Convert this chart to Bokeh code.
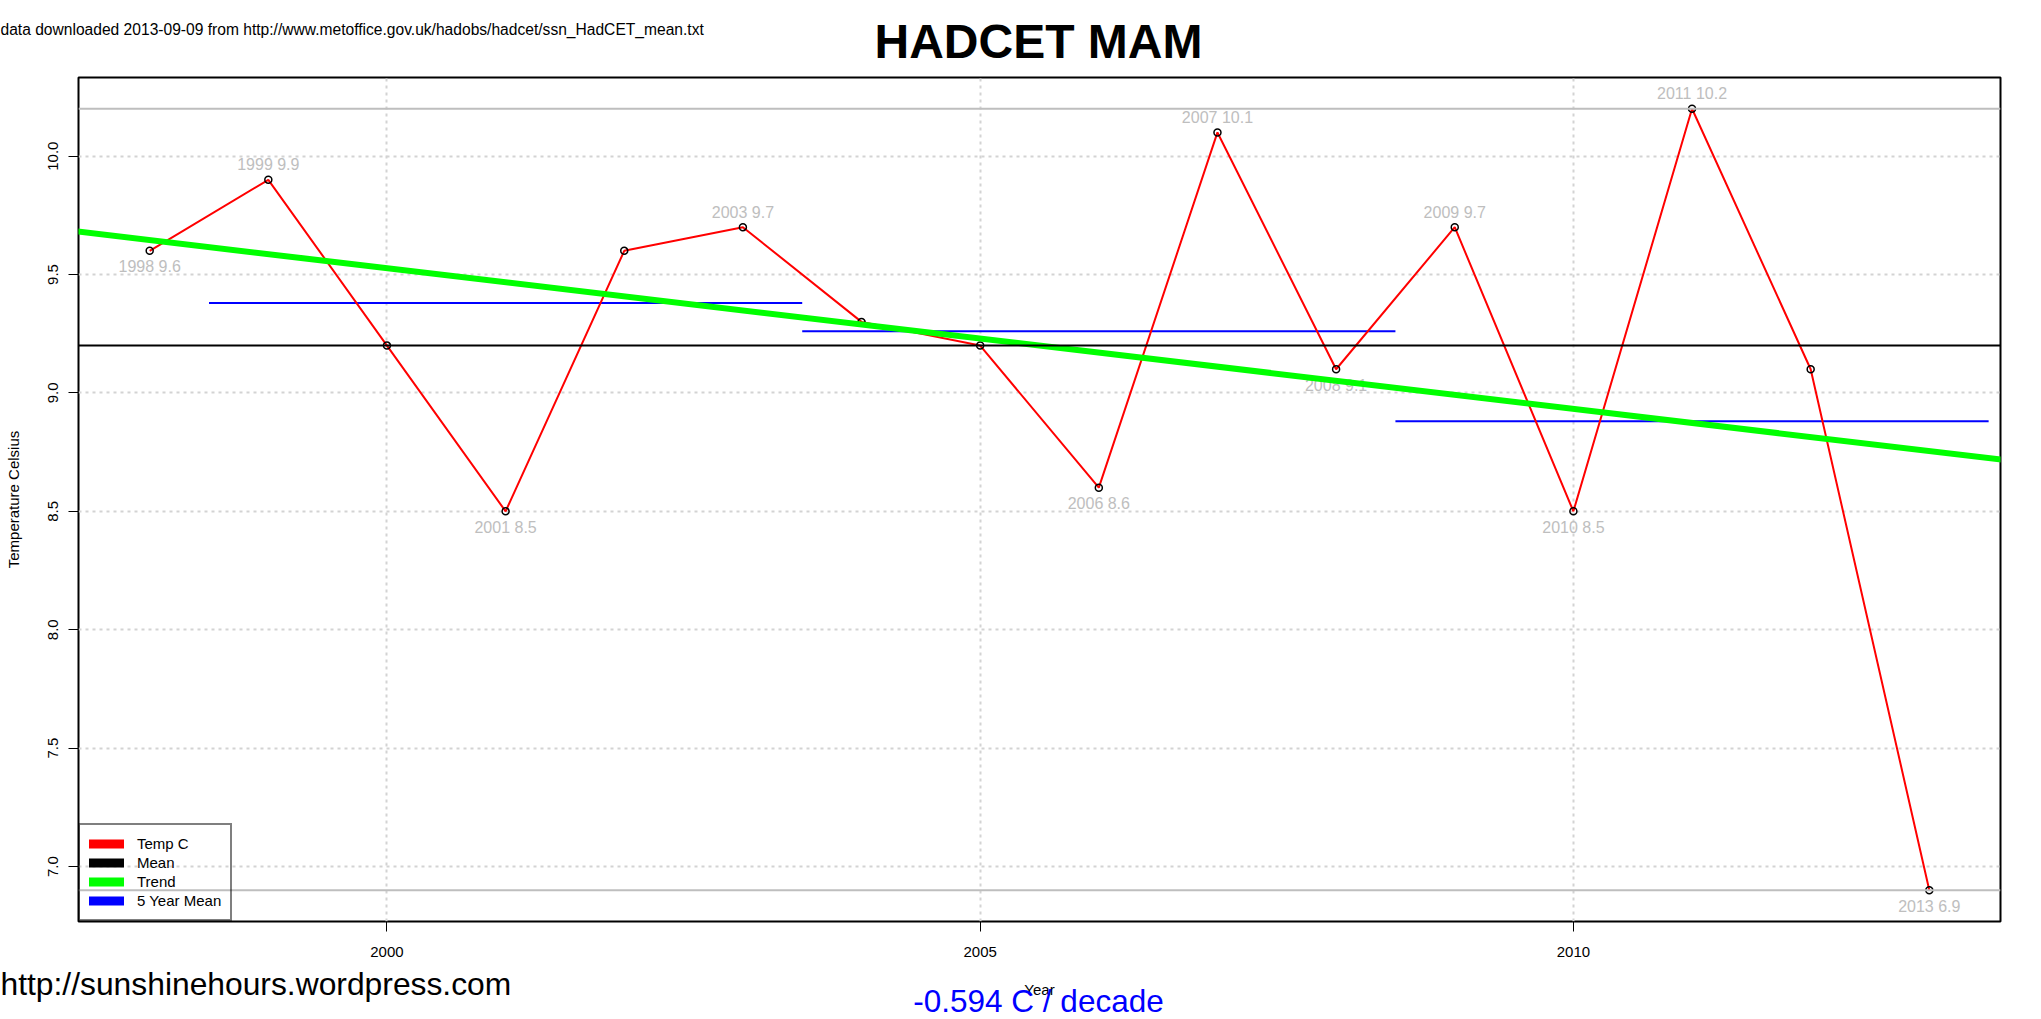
import numpy as np
from bokeh.plotting import figure
from bokeh.layouts import column
from bokeh.models import (Range1d, FixedTicker, Label, Legend, LegendItem, Span, Slope,
                          ColumnDataSource)
from bokeh.embed import file_html
from bokeh.resources import INLINE
from bokeh.core.properties import value

# ---------------- data ----------------
years = [1998, 1999, 2000, 2001, 2002, 2003, 2004, 2005,
         2006, 2007, 2008, 2009, 2010, 2011, 2012, 2013]
temps = [9.6, 9.9, 9.2, 8.5, 9.6, 9.7, 9.3, 9.2,
         8.6, 10.1, 9.1, 9.7, 8.5, 10.2, 9.1, 6.9]
block_starts = [1999, 2004, 2009]          # 5-year blocks for the 5 Year Mean
x_ticks = [2000, 2005, 2010]
x_tick_labels = ["2000", "2005", "2010"]
y_ticks = [7.0, 7.5, 8.0, 8.5, 9.0, 9.5, 10.0]
y_tick_labels = ["7.0", "7.5", "8.0", "8.5", "9.0", "9.5", "10.0"]
legend_labels = ["Temp C", "Mean", "Trend", "5 Year Mean"]
legend_colors = ["#FF0000", "#000000", "#00FF00", "#0000FF"]
title_text = "HADCET MAM"
source_text = "data downloaded 2013-09-09 from http://www.metoffice.gov.uk/hadobs/hadcet/ssn_HadCET_mean.txt"
site_text = "http://sunshinehours.wordpress.com"

FONT = "Liberation Sans"
W, H = 2041, 1019

yr = np.array(years, dtype=float)
tp = np.array(temps, dtype=float)
n = len(yr)

# derived statistics
mean_t = float(tp.mean())
slope, intercept = np.polyfit(yr, tp, 1)
decade_text = f"{slope * 10:.3f} C / decade"

blk_x0, blk_x1, blk_y = [], [], []
for b in block_starts:
    sel = (yr >= b) & (yr <= b + 4)
    blk_x0.append(b - 0.5)
    blk_x1.append(b + 4.5)
    blk_y.append(float(tp[sel].mean()))

# labels at local extremes (peaks above, troughs below)
lab_x, lab_y, lab_t, lab_off = [], [], [], []
for i in range(n):
    nb = [tp[j] for j in (i - 1, i + 1) if 0 <= j < n]
    if all(tp[i] > v for v in nb):
        off = -15
    elif all(tp[i] < v for v in nb):
        off = 16
    else:
        continue
    lab_x.append(yr[i]); lab_y.append(tp[i])
    lab_t.append(f"{years[i]} {temps[i]}"); lab_off.append(off)

# R-style 4% padded ranges
xpad = 0.04 * (yr.max() - yr.min())
ypad = 0.04 * (tp.max() - tp.min())

p = figure(width=W, height=H, output_backend="svg", toolbar_location=None,
           x_range=Range1d(yr.min() - xpad, yr.max() + xpad),
           y_range=Range1d(tp.min() - ypad, tp.max() + ypad),
           min_border_left=78, min_border_right=41, min_border_top=77, min_border_bottom=98)
p.title.visible = False
p.background_fill_color = "white"
p.border_fill_color = "white"
p.outline_line_color = "black"
p.outline_line_width = 2

# axes
for ax in (p.xaxis[0], p.yaxis[0]):
    ax.axis_line_color = None
    ax.major_tick_out = 10
    ax.major_tick_in = 0
    ax.minor_tick_line_color = None
    ax.major_tick_line_color = "black"
    ax.major_label_text_font = FONT
    ax.major_label_text_font_size = "15px"
    ax.major_label_text_color = "black"
    ax.axis_label_text_font = FONT
    ax.axis_label_text_font_size = "15px"
    ax.axis_label_text_font_style = "normal"
    ax.axis_label_text_color = "black"

p.xaxis.ticker = FixedTicker(ticks=x_ticks)
p.xaxis.major_label_overrides = dict(zip(x_ticks, x_tick_labels))
p.xaxis.major_label_standoff = 15
p.xaxis.axis_label = "Year"
p.xaxis.axis_label_standoff = 21

p.yaxis.ticker = FixedTicker(ticks=y_ticks)
p.yaxis.major_label_overrides = dict(zip(y_ticks, y_tick_labels))
p.yaxis.major_label_orientation = "vertical"
p.yaxis.major_label_standoff = 10
p.yaxis.axis_label = "Temperature Celsius"
p.yaxis.axis_label_standoff = 24

# grid
p.xgrid.ticker = FixedTicker(ticks=x_ticks)
p.ygrid.ticker = FixedTicker(ticks=y_ticks)
for g in (p.xgrid[0], p.ygrid[0]):
    g.grid_line_color = "#D3D3D3"
    g.grid_line_dash = "3 4"
    g.grid_line_width = 2

# point labels
p.text(x="x", y="y", text="t", y_offset="off",
       source=ColumnDataSource(dict(x=lab_x, y=lab_y, t=lab_t, off=lab_off)),
       text_align="center", text_baseline="middle", text_color="#BEBEBE",
       text_font=value(FONT), text_font_size="16px")

# trend, max/min, mean
p.add_layout(Slope(gradient=slope, y_intercept=intercept, line_color="#00FF00", line_width=6))
p.add_layout(Span(location=float(tp.max()), dimension="width", line_color="#BEBEBE", line_width=2))
p.add_layout(Span(location=float(tp.min()), dimension="width", line_color="#BEBEBE", line_width=2))
p.add_layout(Span(location=mean_t, dimension="width", line_color="black", line_width=2))

# 5-year means
p.segment(x0=blk_x0, y0=blk_y, x1=blk_x1, y1=blk_y, line_color="#0000FF", line_width=2)

# temperature series
p.line(yr, tp, line_color="#FF0000", line_width=2)
p.scatter(yr, tp, marker="circle", size=7, fill_color=None, line_color="black", line_width=1.5)

# legend (thick round swatches; renderers hold one NaN point so they draw nothing)
items = []
for lab, col in zip(legend_labels, legend_colors):
    r = p.line(x=[np.nan], y=[np.nan], line_color=col, line_width=9, line_cap="round")
    items.append(LegendItem(label=lab, renderers=[r]))
leg = Legend(items=items, location="bottom_left", margin=0, padding=9, spacing=0,
             glyph_width=35, glyph_height=19, label_height=19, label_standoff=13,
             label_text_font=FONT, label_text_font_size="15px", label_text_color="black",
             border_line_color="black", border_line_width=2, background_fill_alpha=0)
p.add_layout(leg)

# ---- transparent overlay figure for the texts outside the plot box ----
t = figure(width=W, height=H, output_backend="svg", toolbar_location=None,
           x_range=Range1d(0, W), y_range=Range1d(0, H),
           x_axis_type=None, y_axis_type=None, min_border=0)
t.title.visible = False
t.outline_line_color = None
t.background_fill_alpha = 0
t.border_fill_alpha = 0
t.xgrid.visible = False
t.ygrid.visible = False
t.styles = {"margin-top": f"-{H}px"}

# keep each figure's own borders (no frame alignment inside the column)
for fig in (p, t):
    if "frame_align" in fig.properties():
        fig.frame_align = False

def add_text(x, y_base, txt, size_px, align="left", style="normal", color="black"):
    # text is anchored at its vertical middle; convert the wanted baseline to that
    y_mid = y_base - 0.347 * size_px
    t.add_layout(Label(x=x, y=H - y_mid, x_units="screen", y_units="screen", text=txt,
                       text_font=FONT, text_font_size=f"{size_px}px", text_font_style=style,
                       text_align=align, text_baseline="middle", text_color=color))

add_text(1038, 58, title_text, 48, align="center", style="bold")
add_text(0, 34, source_text, 15.6)
add_text(0, 995, site_text, 31.8)
add_text(1038, 1011, decade_text, 31.5, align="center", color="#0000FF")

layout = column(p, t, spacing=0)
open("out.html", "w").write(file_html(layout, INLINE))
